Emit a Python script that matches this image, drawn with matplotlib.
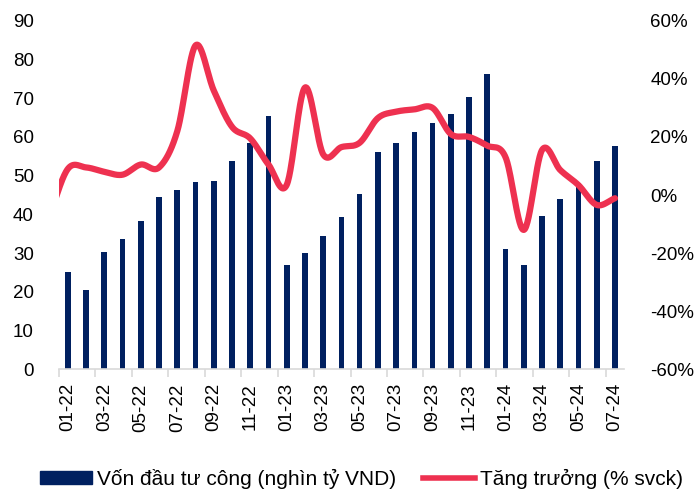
import numpy as np
import matplotlib.pyplot as plt
from matplotlib.lines import Line2D
from matplotlib.patches import Patch

plt.rcParams['font.family'] = ['Liberation Sans', 'DejaVu Sans']

# Monthly data, 01-22 .. 07-24
months = [f"{m:02d}-{y}" for y in (22, 23, 24) for m in range(1, 13)][:31]
von_dau_tu = [25.2, 20.5, 30.3, 33.6, 38.2, 44.6, 46.2, 48.4, 48.7, 53.7,
              58.5, 65.5, 26.9, 29.9, 34.5, 39.3, 45.2, 56.0, 58.5, 61.4,
              63.5, 65.8, 70.4, 76.3, 31.1, 26.9, 39.7, 44.0, 48.2, 53.8, 57.7]
# growth, first value is 12-21 (only its tail is visible at the left edge)
tang_truong = [-7, 9, 9.5, 8, 7, 10.5, 9.5, 22, 51.5, 36, 23.5, 19.5, 10.5,
               3.5, 37, 14, 16.5, 18, 26.5, 28.7, 29.5, 30, 21, 20, 17, 13,
               -12, 15.5, 8.6, 3.4, -3.4, -1.1]

BAR_COLOR = '#002060'
LINE_COLOR = '#EE3150'
GREY = '#d9d9d9'
FS = 13.5


def smooth(x, y, n=30):
    # uniform Catmull-Rom spline, like Excel's "smoothed line"
    x = np.asarray(x, float)
    y = np.asarray(y, float)
    px = np.concatenate([[2 * x[0] - x[1]], x, [2 * x[-1] - x[-2]]])
    py = np.concatenate([[2 * y[0] - y[1]], y, [2 * y[-1] - y[-2]]])
    t = np.linspace(0, 1, n, endpoint=False)
    xs, ys = [], []
    for i in range(1, len(px) - 2):
        for p, out in ((px, xs), (py, ys)):
            p0, p1, p2, p3 = p[i - 1], p[i], p[i + 1], p[i + 2]
            out.append(0.5 * (2 * p1 + (-p0 + p2) * t
                              + (2 * p0 - 5 * p1 + 4 * p2 - p3) * t ** 2
                              + (-p0 + 3 * p1 - 3 * p2 + p3) * t ** 3))
    xs.append([x[-1]])
    ys.append([y[-1]])
    return np.concatenate(xs), np.concatenate(ys)


fig = plt.figure(figsize=(6.95, 4.95), dpi=100)
ax = fig.add_axes([0.0845, 0.254, 0.8135, 0.704])

xb = np.arange(len(von_dau_tu))
ax.bar(xb, von_dau_tu, width=0.31, color=BAR_COLOR, zorder=2)
ax.set_xlim(-0.5, len(von_dau_tu) - 0.5)
ax.set_ylim(0, 90)
ax.set_yticks(np.arange(0, 91, 10))
ax.tick_params(axis='y', length=0, pad=18, labelsize=FS)

ax.set_xticks(xb[::2])
ax.set_xticklabels(months[::2], rotation=90, fontsize=FS)
ax.set_xticks(np.arange(-0.5, 30, 2), minor=True)
ax.tick_params(axis='x', which='major', length=0, pad=10)
ax.tick_params(axis='x', which='minor', length=6, color=GREY, width=1.2)

for s in ('top', 'left', 'right'):
    ax.spines[s].set_visible(False)
ax.spines['bottom'].set_color(GREY)
ax.spines['bottom'].set_linewidth(1.2)

ax2 = ax.twinx()
xl = np.arange(-1, len(tang_truong) - 1)
sx, sy = smooth(xl, tang_truong)
ax2.plot(sx, sy, color=LINE_COLOR, lw=4.5, solid_capstyle='round', clip_on=True)
ax2.set_xlim(-0.5, len(von_dau_tu) - 0.5)
ax2.set_ylim(-60, 60)
ax2.set_yticks(np.arange(-60, 61, 20))
ax2.set_yticklabels([f"{v}%" for v in range(-60, 61, 20)])
ax2.tick_params(axis='y', length=0, pad=19, labelsize=FS)
for s in ax2.spines.values():
    s.set_visible(False)

handles = [Patch(color=BAR_COLOR), Line2D([], [], color=LINE_COLOR, lw=4)]
labels = ['Vốn đầu tư công (nghìn tỷ VND)', 'Tăng trưởng (% svck)']
fig.legend(handles, labels, loc='center', bbox_to_anchor=(0.52, 0.032),
           ncol=2, frameon=False, fontsize=15, handlelength=2.5,
           handleheight=0.58, handletextpad=0.25, columnspacing=1.3)

fig.savefig('out.png', dpi=100)
